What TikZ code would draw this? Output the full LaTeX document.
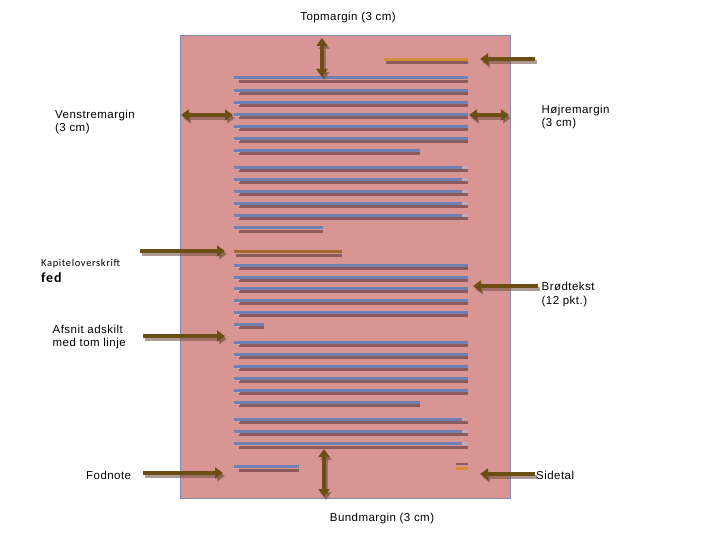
\documentclass[tikz,border=0pt]{standalone}
\usepackage{fontspec}
\setmainfont{Liberation Sans}[LetterSpace=4]
\newfontfamily\calfont{Carlito}[LetterSpace=6]
\usetikzlibrary{arrows.meta}
\definecolor{pagefill}{HTML}{D99594}
\definecolor{pageedge}{HTML}{7F8CAE}
\definecolor{bluel}{HTML}{6F80B3}
\definecolor{shadl}{HTML}{8C5C5C}
\definecolor{lightl}{HTML}{C8A8B4}
\definecolor{orangel}{HTML}{D58D3C}
\definecolor{headl}{HTML}{A2692B}
\definecolor{arrowc}{HTML}{6B4E14}
\definecolor{arrsh}{HTML}{6E5040}
\tikzset{
  lbl/.style={font=\fontsize{11.5}{13}\selectfont, inner sep=0pt, align=left},
  bline/.style={draw=bluel, line width=3pt},
  sline/.style={draw=shadl, line width=3pt},
  lline/.style={draw=lightl, line width=1pt},
  arr/.style={line width=3.5pt, draw=arrowc, fill=arrowc, -{Triangle[length=8pt,width=11pt]}},
  darr/.style={line width=3.5pt, draw=arrowc, fill=arrowc, {Triangle[length=8pt,width=11pt]}-{Triangle[length=8pt,width=11pt]}},
  arrshadow/.style={draw=arrsh, fill=arrsh, opacity=0.55, transform canvas={shift={(2,3)}}}
}
% text line: y, x1, x2
\newcommand\txtline[3]{%
  \draw[sline] (#2+5,#1+3.4) -- (#3,#1+3.4);
  \draw[lline] (#2,#1+2) -- (#2+6,#1+2);
  \draw[bline] (#2,#1) -- (#3,#1);}
% text line with light tail at right end
\newcommand\txtlinet[3]{%
  \draw[sline] (#2+5,#1+3.4) -- (#3,#1+3.4);
  \draw[lline] (#2,#1+2) -- (#2+6,#1+2);
  \draw[bline] (#2,#1) -- (#3-6,#1);
  \draw[draw=lightl, line width=2.5pt] (#3-6,#1) -- (#3,#1);}
% arrow with shadow: style, from, to
\newcommand\sharrow[3]{%
  \draw[#1,arrshadow] (#2) -- (#3);
  \draw[#1] (#2) -- (#3);}
\begin{document}
\begin{tikzpicture}[x=1pt,y=-1pt]
\useasboundingbox (0,0) rectangle (720,540);
% page
\draw[fill=pagefill, draw=pageedge, line width=1pt] (180,36) rectangle (510,498);
% top heading
\draw[sline] (386,63) -- (468,63);
\draw[draw=orangel, line width=3pt] (384,59.5) -- (468,59.5);
% paragraph 1
\foreach \yy in {78,90.3,102.3,114.3,126.5,138.3} {\txtline{\yy}{234}{468}}
\txtline{150.5}{234}{420}
% paragraph 2
\foreach \yy in {167.5,179.5,191.5,203.5,215.5} {\txtlinet{\yy}{234}{468}}
\txtline{228}{234}{323}
% chapter heading
\draw[sline] (236,255) -- (342,255);
\draw[draw=headl, line width=3pt] (234,251.5) -- (342,251.5);
% paragraph 3
\foreach \yy in {265,277,288.5,300.3,312.3} {\txtline{\yy}{234}{468}}
\txtline{324}{234}{264}
% paragraph 4
\foreach \yy in {342.3,354.3,366.3,378.3,390.3} {\txtline{\yy}{234}{468}}
\txtline{402}{234}{420}
% paragraph 5
\foreach \yy in {419,431.3,443.7} {\txtlinet{\yy}{234}{468}}
% footnote
\txtline{466.7}{234}{299}
% page number
\draw[draw=shadl, line width=2.5pt] (456,464) -- (468,464);
\draw[draw=orangel, line width=2.5pt] (456,468.5) -- (468,468.5);

% coordinates
\coordinate (tmT) at (322,38);  \coordinate (tmB) at (322,77);
\coordinate (lmL) at (181,115); \coordinate (lmR) at (233,115);
\coordinate (rmL) at (469,115); \coordinate (rmR) at (509,115);
\coordinate (bmT) at (324,449); \coordinate (bmB) at (324,497);
\coordinate (hS) at (535,59);   \coordinate (hE) at (480,59);
\coordinate (cS) at (140,251);  \coordinate (cE) at (225,251);
\coordinate (bS) at (538,286);  \coordinate (bE) at (473,286);
\coordinate (aS) at (143,336);  \coordinate (aE) at (225,336);
\coordinate (fS) at (143,473);  \coordinate (fE) at (223,473);
\coordinate (sS) at (535,474);  \coordinate (sE) at (480,474);

\sharrow{darr}{tmT}{tmB}
\sharrow{darr}{lmL}{lmR}
\sharrow{darr}{rmL}{rmR}
\sharrow{darr}{bmT}{bmB}
\sharrow{arr}{hS}{hE}
\sharrow{arr}{cS}{cE}
\sharrow{arr}{bS}{bE}
\sharrow{arr}{aS}{aE}
\sharrow{arr}{fS}{fE}
\sharrow{arr}{sS}{sE}

% labels
\node[lbl, anchor=base] (top) at (348,21) {Topmargin (3 cm)};
\node[lbl, anchor=base] (bund) at (382,521.5) {Bundmargin (3 cm)};
\node[lbl, anchor=base west] (ven1) at (55,118.3) {Venstremargin};
\node[lbl, anchor=base west] (ven2) at (55,131.5) {(3 cm)};
\node[lbl, anchor=base west] (hoj1) at (541.5,113.3) {Højremargin};
\node[lbl, anchor=base west] (hoj2) at (541.5,126.6) {(3 cm)};
\node[lbl, anchor=base west] (bro1) at (541.5,290.7) {Brødtekst};
\node[lbl, anchor=base west] (bro2) at (541.5,304.2) {(12 pkt.)};
\node[inner sep=0pt, anchor=base west, font=\calfont\fontsize{10.5}{12}\selectfont] (kap) at (41,266.7) {Kapiteloverskrift};
\node[inner sep=0pt, anchor=base west, font=\calfont\bfseries\fontsize{14}{15}\selectfont] (fed) at (41,282.7) {fed};
\node[lbl, anchor=base west] (afs1) at (52.5,333.3) {Afsnit adskilt};
\node[lbl, anchor=base west] (afs2) at (52.5,346.3) {med tom linje};
\node[lbl, anchor=base west] (fod) at (86,479) {Fodnote};
\node[lbl, anchor=base west] (sid) at (536,479) {Sidetal};
\end{tikzpicture}
\end{document}
